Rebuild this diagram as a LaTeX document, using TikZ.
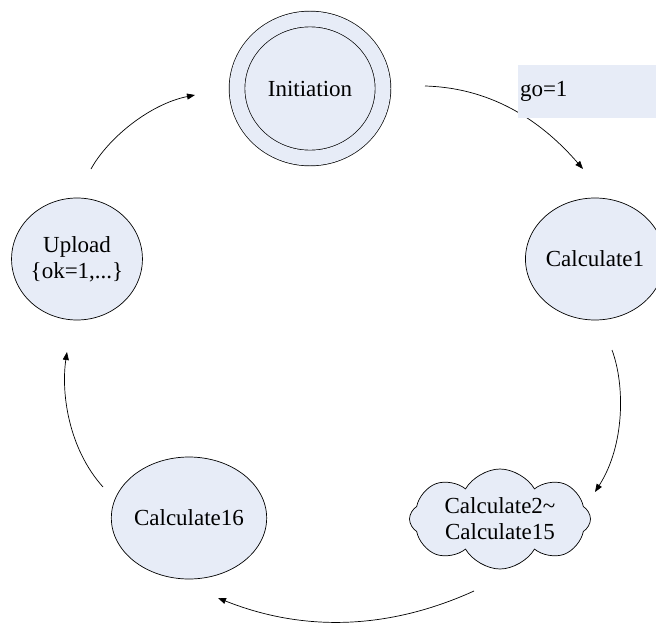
\documentclass[tikz,border=0pt]{standalone}
\usepackage{fontspec}
\setmainfont{Liberation Serif}
\usetikzlibrary{shapes.geometric, shapes.symbols, arrows.meta}
\definecolor{palefill}{RGB}{231,236,247}

\begin{document}
\begin{tikzpicture}[x=1pt, y=-1pt,
    phase/.style={ellipse, draw=black, fill=palefill, line width=0.7pt, minimum width=128pt, minimum height=122pt, inner sep=0pt, align=center, font=\fontsize{23}{26}\selectfont},
    startphase/.style={phase, minimum width=146pt, minimum height=139pt, double=palefill, double distance=15pt},
    cloudphase/.style={cloud, cloud puffs=8, cloud puff arc=120, aspect=1.9, draw=black, fill=palefill, line width=0.7pt, minimum width=181pt, minimum height=100pt, inner xsep=-6pt, inner ysep=-9pt, align=center, font=\fontsize{23}{26}\selectfont},
    arr/.style={-{Triangle[length=8pt, width=6pt]}, line width=0.7pt},
    cond/.style={fill=palefill, minimum width=138pt, minimum height=53pt, text width=134pt, inner xsep=2pt, align=left, font=\fontsize{23}{26}\selectfont}
]
\useasboundingbox (0,0) rectangle (656,624);

\node[startphase] (init) at (310,88.5) {Initiation};
\node[phase, minimum width=122pt] (calc1) at (595,259) {Calculate1};
\node[cloudphase] (calcmid) at (500,519) {Calculate2\textasciitilde\\Calculate15};
\node[phase] (calc16) at (189,518) {Calculate16};
\node[phase] (upload) at (77,259) {Upload\\\{ok=1,...\}};

\draw[arr] ([shift={(115,-2.5)}]init.center) .. controls +(71,2) and +(-38,-44) .. ([shift={(-12,-90)}]calc1.center);
\draw[arr] ([shift={(17,91)}]calc1.center) .. controls +(13,35) and +(30,-47) .. ([shift={(95,-27)}]calcmid.center);
\draw[arr] ([shift={(-26,72)}]calcmid.center) .. controls +(-86,39) and +(85,34) .. ([shift={(29,80)}]calc16.center);
\draw[arr] ([shift={(-86,-31)}]calc16.center) .. controls +(-35,-39) and +(-6,40) .. ([shift={(-10,93)}]upload.center);
\draw[arr] ([shift={(14,-90)}]upload.center) .. controls +(17,-31) and +(-45,9) .. ([shift={(-115,6.5)}]init.center);

\node[cond] (golbl) at (587,91.5) {go=1};
\end{tikzpicture}
\end{document}
